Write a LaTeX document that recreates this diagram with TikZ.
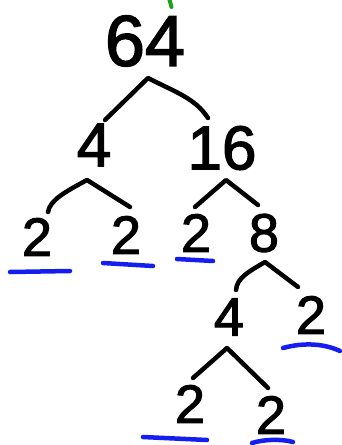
\documentclass[tikz,border=0pt]{standalone}
\usepackage{fontspec}
\setmainfont{Liberation Sans}[FakeBold=2]
\definecolor{ulblue}{RGB}{20,30,240}
\definecolor{tickgreen}{RGB}{30,160,30}
\begin{document}
\begin{tikzpicture}[x=1pt,y=-1pt,
  num/.style={inner sep=0pt,outer sep=0pt,anchor=center},
  big/.style={num,font=\fontsize{72}{72}\selectfont},
  mid/.style={num,font=\fontsize{62}{62}\selectfont},
  sml/.style={num,font=\fontsize{54}{54}\selectfont},
  branch/.style={line width=4.5pt,line cap=round,line join=round,black},
  under/.style={line width=4.5pt,line cap=round,ulblue}]
\useasboundingbox (0,0) rectangle (341,445);
\fill[white] (0,0) rectangle (341,445);
% green tick at top
\coordinate (g1) at (169,-2); \coordinate (g2) at (171.5,7);
\draw[line width=4pt,line cap=round,tickgreen] (g1) -- (g2);
% numbers
\node[big] (n64) at (145,41) {64};
\node[mid] (n4a) at (94,145) {4};
\node[mid] (n16) at (222,148) {16};
\node[sml] (n2a) at (37,237) {2};
\node[sml] (n2b) at (126,235) {2};
\node[sml] (n2c) at (196,233) {2};
\node[sml] (n8) at (264,233) {8};
\node[sml] (n4b) at (229,317) {4};
\node[sml] (n2d) at (311,315) {2};
\node[sml] (n2e) at (190,404) {2};
\node[sml] (n2f) at (271,415) {2};
% branch points
\coordinate (a64) at (148,78);
\coordinate (e64l) at (105,120);
\coordinate (e64r) at (208,118);
\coordinate (a4) at (87,180);
\coordinate (e4l) at (48,212);
\coordinate (e4r) at (130,207);
\coordinate (a16) at (226,180);
\coordinate (e16l) at (195,207);
\coordinate (e16r) at (258,205);
\coordinate (a8) at (265,262);
\coordinate (e8l) at (236,290);
\coordinate (e8r) at (298,287);
\coordinate (a4b) at (227,348);
\coordinate (e4bl) at (193,378);
\coordinate (e4br) at (268,388);
% branches
\draw[branch] (e64l) -- (a64) .. controls (175,92) and (195,98) .. (e64r);
\draw[branch] (e4l) .. controls (50,200) and (65,192) .. (a4) -- (e4r);
\draw[branch] (e16l) -- (a16) -- (e16r);
\draw[branch] (e8l) .. controls (237,278) and (248,272) .. (a8) -- (e8r);
\draw[branch] (e4bl) -- (a4b) -- (e4br);
% underlines
\coordinate (u1a) at (10,272); \coordinate (u1b) at (70,271);
\coordinate (u2a) at (103,263); \coordinate (u2b) at (153,266);
\coordinate (u3a) at (177,259); \coordinate (u3b) at (213,261);
\coordinate (u4a) at (283,348); \coordinate (u4b) at (340,351);
\coordinate (u5a) at (143,437); \coordinate (u5b) at (207,440);
\coordinate (u6a) at (252,443); \coordinate (u6b) at (293,442);
\draw[under] (u1a) -- (u1b);
\draw[under] (u2a) -- (u2b);
\draw[under] (u3a) -- (u3b);
\draw[under] (u4a) .. controls (305,342) and (325,344) .. (u4b);
\draw[under] (u5a) -- (u5b);
\draw[under] (u6a) .. controls (265,439) and (282,439) .. (u6b);
\end{tikzpicture}
\end{document}
